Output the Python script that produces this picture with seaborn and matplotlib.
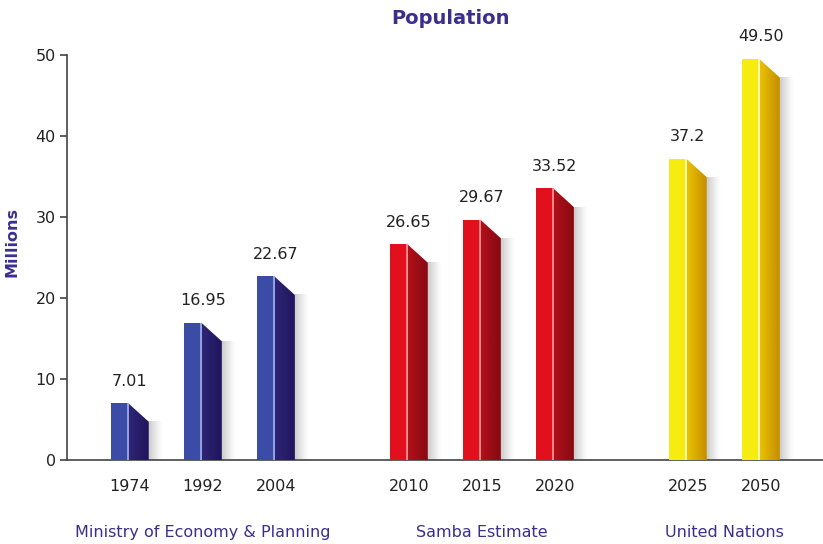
import numpy as np
import pandas as pd
import matplotlib
matplotlib.use("Agg")
import matplotlib.pyplot as plt
import matplotlib.transforms as mtransforms
import seaborn as sns
from matplotlib.patches import Polygon
from matplotlib.colors import LinearSegmentedColormap

# ---- data ----
years = ["1974", "1992", "2004", "2010", "2015", "2020", "2025", "2050"]
values = [7.01, 16.95, 22.67, 26.65, 29.67, 33.52, 37.2, 49.50]
value_labels = ["7.01", "16.95", "22.67", "26.65", "29.67", "33.52", "37.2", "49.50"]
groups = ["Ministry of Economy & Planning"] * 3 + ["Samba Estimate"] * 3 + ["United Nations"] * 2
group_names = ["Ministry of Economy & Planning", "Samba Estimate", "United Nations"]
yticks = [0, 10, 20, 30, 40, 50]

# ---- styles ----
front_colors = {
    "Ministry of Economy & Planning": "#3a4ca6",
    "Samba Estimate": "#e2101c",
    "United Nations": "#f7ec10",
}
side_colors = {
    "Ministry of Economy & Planning": ("#2e2676", "#20145c"),
    "Samba Estimate": ("#b3101a", "#860a12"),
    "United Nations": ("#ecc400", "#c48e00"),
}
highlight = {
    "Ministry of Economy & Planning": "#9aa8e6",
    "Samba Estimate": "#ff9090",
    "United Nations": "#fffbc0",
}
label_purple = "#3b2f8c"

sns.set_style("white")
plt.rcParams["font.family"] = ["DejaVu Sans"]

# positions: index plus extra gap between groups
group_gap = 0.82
pos = [i + group_names.index(g) * group_gap for i, g in enumerate(groups)]
df = pd.DataFrame({"pos": pos, "value": values, "group": groups,
                   "year": years, "label": value_labels})

fig = plt.figure(figsize=(8.23, 5.44), dpi=100)
ax = fig.add_axes([0.0814, 0.1544, 0.9186, 0.7445])

sns.barplot(data=df, x="pos", y="value", hue="group", palette=front_colors,
            native_scale=True, width=0.52, dodge=False, legend=False,
            errorbar=None, saturation=1, ax=ax, zorder=3)

front_frac = 0.46
drop = 2.3
patches = sorted([p for p in ax.patches if p.get_height() > 0], key=lambda p: p.get_x())
centers = []
for patch, (_, row) in zip(patches, df.sort_values("pos").iterrows()):
    x0, w, h = patch.get_x(), patch.get_width(), patch.get_height()
    centers.append(x0 + w / 2)
    g = row["group"]
    xs = x0 + w * front_frac
    xe = x0 + w
    patch.set_width(w * front_frac)
    patch.set_edgecolor("none")
    # soft shadow to the right
    sw = 0.18
    grad = np.zeros((2, 50, 4))
    grad[..., 0:3] = 0.5
    grad[..., 3] = np.linspace(0.5, 0.0, 50) ** 1.3
    ax.imshow(grad, extent=[xe, xe + sw, 0, h - drop], aspect="auto",
              zorder=2, interpolation="bilinear")
    # side face with slanted top
    poly = Polygon([(xs, 0), (xs, h), (xe, h - drop), (xe, 0)], closed=True,
                   facecolor="none", edgecolor="none", zorder=3)
    ax.add_patch(poly)
    cmap = LinearSegmentedColormap.from_list("s", list(side_colors[g]))
    im = ax.imshow(np.linspace(0, 1, 50).reshape(1, -1), extent=[xs, xe, 0, h],
                   aspect="auto", cmap=cmap, zorder=3, interpolation="bilinear")
    im.set_clip_path(poly)
    # highlight edge
    ax.plot([xs, xs], [0, h], color=highlight[g], lw=1.3, zorder=4,
            solid_capstyle="butt")
    # value label
    ax.text(x0 + w / 2, h + 1.8, row["label"],
            ha="center", va="bottom", fontsize=11.5, color="#222222")

ax.set_xlim(-0.86, 9.49)
ax.set_ylim(0, 50)
ax.set_yticks(yticks)
ax.set_xticks(centers)
ax.set_xticklabels(years)
ax.set_xlabel("")
ax.set_ylabel("")
ax.tick_params(axis="x", length=0, pad=14, labelsize=11.5, colors="#222222")
ax.tick_params(axis="y", length=5, width=1.2, pad=3, labelsize=11.5,
               colors="#444444", labelcolor="#222222", left=True)
for s in ["top", "right"]:
    ax.spines[s].set_visible(False)
for s in ["left", "bottom"]:
    ax.spines[s].set_color("#444444")
    ax.spines[s].set_linewidth(1.2)

trans = mtransforms.blended_transform_factory(ax.transData, ax.transAxes)
for gname in group_names:
    gx = np.mean([c for c, g in zip(centers, groups) if g == gname])
    ax.text(gx, -0.18, gname, transform=trans, ha="center", va="center",
            fontsize=11.5, color=label_purple)

fig.text(0.547, 1 - 18 / 544, "Population", ha="center", va="center",
         fontsize=14, fontweight="bold", color=label_purple)
fig.text(12 / 823, 1 - 242 / 544, "Millions", ha="center", va="center",
         rotation=90, fontsize=11.5, fontweight="bold", color=label_purple)

fig.savefig("out.png", dpi=100)
